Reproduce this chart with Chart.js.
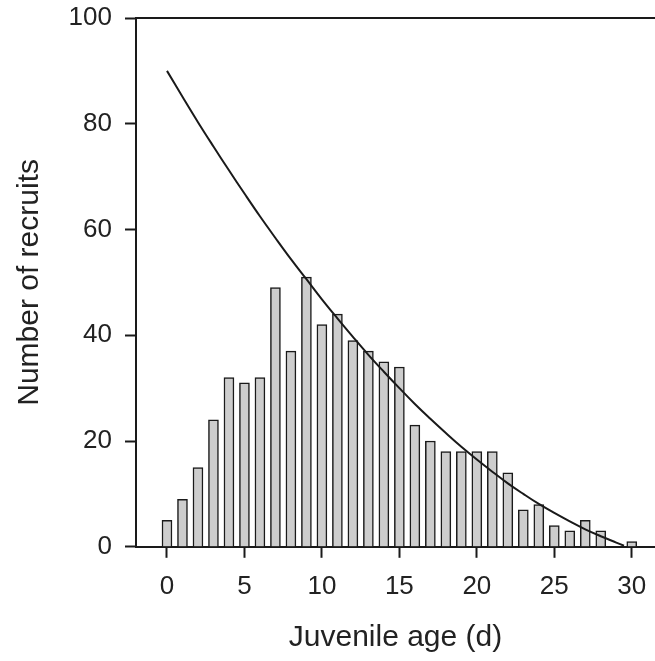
<!DOCTYPE html>
<html>

<head>
    <title>Juvenile age</title>
    <script src="https://cdn.jsdelivr.net/npm/chart.js@4.4.1/dist/chart.umd.min.js"></script>
    <style>
        html, body { margin: 0; padding: 0; background: #fff; }
        #wrap { width: 655px; height: 661px; }
    </style>
</head>

<body>
    <div id="wrap"><canvas id="plotCanvas"></canvas></div>
    <script>
        // ========= Data =================================

        const ages = [0, 1, 2, 3, 4, 5, 6, 7, 8, 9, 10, 11, 12, 13, 14, 15,
            16, 17, 18, 19, 20, 21, 22, 23, 24, 25, 26, 27, 28, 29, 30]
        const recruits = [5, 9, 15, 24, 32, 31, 32, 49, 37, 51, 42, 44, 39, 37, 35, 34,
            23, 20, 18, 18, 18, 18, 14, 7, 8, 4, 3, 5, 3, 0, 1]

        const curveAges = [0, 1, 2, 3, 4, 5, 6, 7, 8, 9, 10, 11, 12, 13, 14, 15,
            16, 17, 18, 19, 20, 21, 22, 23, 24, 25, 26, 27, 28, 29, 29.5]
        const curveValues = [90, 85.1, 80.3, 75.7, 71.2, 66.8, 62.5, 58.4, 54.4, 50.6,
            46.8, 43.2, 39.7, 36.3, 33.1, 30.0, 27.0, 24.2, 21.5, 18.9, 16.5, 14.2,
            12.0, 10.0, 8.1, 6.4, 4.8, 3.3, 2.0, 0.8, 0.2]

        const xTicks = [0, 5, 10, 15, 20, 25, 30]
        const yTicks = [0, 20, 40, 60, 80, 100]

        // =========== Chart setup ===========

        const font = 'Liberation Sans, Arial, sans-serif'
        const ink = '#1a1a1a'

        function fixTicks(values) {
            return scale => { scale.ticks = values.map(v => ({ value: v })) }
        }

        const canvas = document.getElementById('plotCanvas')
        const chart = new Chart(canvas, {
            data: {
                datasets: [
                    {
                        type: 'line',
                        data: curveAges.map((x, i) => ({ x, y: curveValues[i] })),
                        borderColor: ink,
                        borderWidth: 2,
                        pointRadius: 0,
                        tension: 0.4,
                        fill: false,
                        order: 0,
                    },
                    {
                        type: 'bar',
                        data: ages.map((x, i) => ({ x, y: recruits[i] })),
                        backgroundColor: '#cdcdcd',
                        borderColor: ink,
                        borderWidth: 1.5,
                        barThickness: 10,
                        order: 1,
                    },
                ],
            },
            options: {
                responsive: true,
                maintainAspectRatio: false,
                animation: false,
                layout: { padding: { top: 18, right: 0, bottom: 5, left: 0 } },
                plugins: { legend: { display: false }, tooltip: { enabled: false } },
                scales: {
                    x: {
                        type: 'linear',
                        offset: false,
                        min: -2,
                        max: 31.5,
                        afterBuildTicks: fixTicks(xTicks),
                        afterFit: s => { s.paddingLeft = 0; s.paddingRight = 0 },
                        grid: { offset: false, drawOnChartArea: false, tickLength: 11, tickWidth: 2, color: ink },
                        border: { display: true, color: ink, width: 2 },
                        ticks: { color: '#222', padding: 13, font: { family: font, size: 26 } },
                        title: {
                            display: true,
                            text: 'Juvenile age (d)',
                            color: '#222',
                            padding: { top: 5, bottom: 0 },
                            font: { family: font, size: 30 },
                        },
                    },
                    xTop: {
                        type: 'linear',
                        position: 'top',
                        offset: false,
                        min: -2,
                        max: 31.5,
                        ticks: { display: false },
                        grid: { drawOnChartArea: false, drawTicks: false },
                        border: { display: true, color: ink, width: 2 },
                        afterFit: s => { s.height = 0 },
                    },
                    y: {
                        min: 0,
                        max: 100,
                        afterBuildTicks: fixTicks(yTicks),
                        afterFit: s => { s.width = 136; s.paddingTop = 0; s.paddingBottom = 0 },
                        grid: { drawOnChartArea: false, tickLength: 11, tickWidth: 2, color: ink },
                        border: { display: true, color: ink, width: 2 },
                        ticks: { color: '#222', padding: 13, font: { family: font, size: 26 } },
                        title: {
                            display: true,
                            text: 'Number of recruits',
                            color: '#222',
                            padding: { top: 12, bottom: 0 },
                            font: { family: font, size: 30 },
                        },
                    },
                },
            },
        })
    </script>
</body>

</html>
